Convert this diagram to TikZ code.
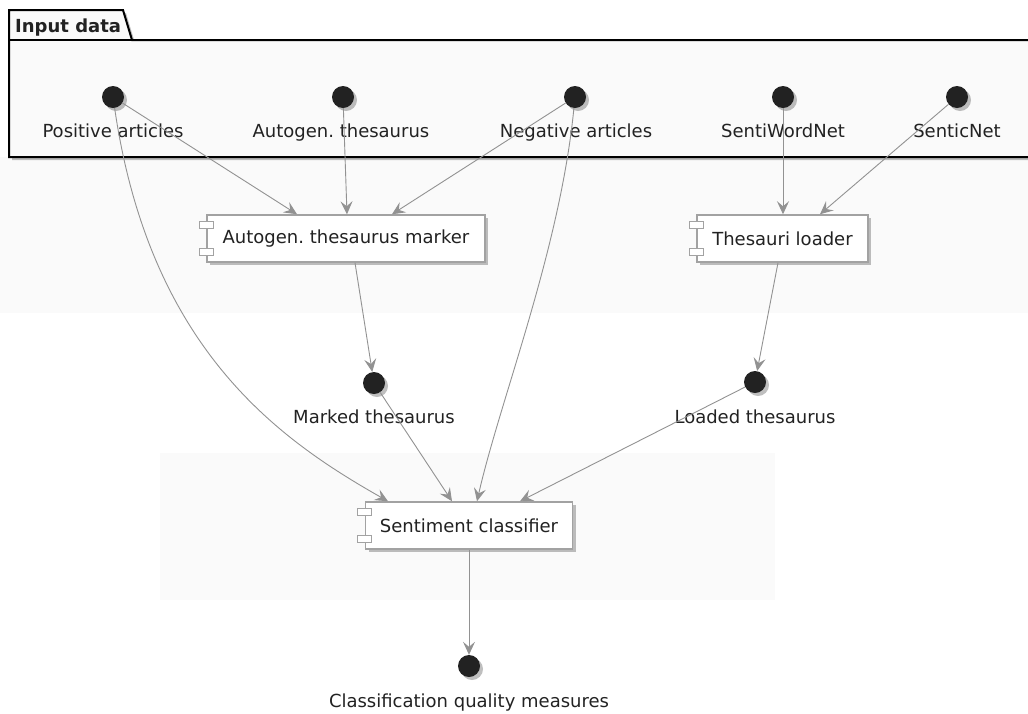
\documentclass[tikz,border=0pt]{standalone}
\usepackage{fontspec}
\setmainfont{DejaVu Sans}
\usetikzlibrary{arrows.meta}
\usetikzlibrary{shadows}
\frenchspacing
\definecolor{linegray}{HTML}{929292}
\definecolor{boxgray}{HTML}{A2A2A2}
\definecolor{dotblack}{HTML}{222222}
\definecolor{bandgray}{HTML}{FAFAFA}
\tikzstyle{shade}=[drop shadow={shadow xshift=3pt, shadow yshift=-3pt, fill=black, opacity=0.25}]
\tikzstyle{txt}=[font=\fontsize{18}{21}\selectfont, text=dotblack]
\tikzstyle{iface}=[circle, fill=dotblack, inner sep=0pt, minimum size=22pt, shade]
\tikzstyle{lbl}=[txt, anchor=base, inner sep=0pt]
\tikzstyle{comp}=[txt, draw=boxgray, line width=1.5pt, fill=white, minimum height=47pt, shade]
\tikzstyle{port}=[draw=boxgray, fill=white, line width=1.2pt]
\tikzstyle{flow}=[draw=linegray, line width=0.9pt, -{Stealth[length=13pt, width=12pt, inset=5pt]}]

\begin{document}
\begin{tikzpicture}[x=1pt, y=-1pt]
        \useasboundingbox (0,0) rectangle (1028,713);
        \fill[bandgray] (0,157) rectangle (1028,313);
        \fill[bandgray] (160,453) rectangle (775,600);
        \draw[line width=2pt, fill=white!98!black, shade] (9,10) -- (123,10) -- (132,40) -- (1034,40) -- (1034,157) -- (9,157) -- cycle;
        \draw[line width=2pt] (9,40) -- (132,40);
        \node[txt, font=\fontsize{18}{21}\selectfont\bfseries, anchor=base west, inner sep=0pt] (pkg) at (15,32) {Input data};
        \node[iface] (posart) at (113,97) {};
        \node[iface] (autogen) at (343,97) {};
        \node[iface] (negart) at (575,97) {};
        \node[iface] (swn) at (783,97) {};
        \node[iface] (snet) at (957,97) {};
        \node[lbl] (posartl) at (113,137) {Positive articles};
        \node[lbl] (autogenl) at (341,137) {Autogen. thesaurus};
        \node[lbl] (negartl) at (576,137) {Negative articles};
        \node[lbl] (swnl) at (783,137) {SentiWordNet};
        \node[lbl] (snetl) at (957,137) {SenticNet};
        \node[comp, minimum width=278pt] (marker) at (346,238.5) {Autogen. thesaurus marker};
        \node[comp, minimum width=171pt] (loader) at (782.5,238.5) {Thesauri loader};
        \node[iface] (marked) at (374,383) {};
        \node[iface] (loaded) at (755,382) {};
        \node[lbl] (markedl) at (374,423) {Marked thesaurus};
        \node[lbl] (loadedl) at (755,423) {Loaded thesaurus};
        \node[comp, minimum width=207pt] (classifier) at (469,525.5) {Sentiment classifier};
        \node[iface] (measures) at (469,666) {};
        \node[lbl] (measuresl) at (469,707) {Classification quality measures};
        \foreach \c in {marker, loader, classifier} {
            \draw[port] ([xshift=-7pt, yshift=-7pt]\c.north west) rectangle ++(14,7);
            \draw[port] ([xshift=-7pt, yshift=7pt]\c.south west) rectangle ++(14,-7);
        }
        \draw[flow] (posart) -- ([xshift=-49pt]marker.north);
        \draw[flow] (autogen) -- ([xshift=1pt]marker.north);
        \draw[flow] (negart) -- ([xshift=46pt]marker.north);
        \draw[flow] (swn) -- ([xshift=0.5pt]loader.north);
        \draw[flow] (snet) -- ([xshift=37.5pt]loader.north);
        \draw[flow] ([xshift=9pt]marker.south) -- (marked);
        \draw[flow] ([xshift=-4.5pt]loader.south) -- (loaded);
        \draw[flow] (posart) .. controls (150,350) and (280,440) .. ([xshift=-81pt]classifier.north);
        \draw[flow] (negart) .. controls (560,250) and (500,400) .. ([xshift=8pt]classifier.north);
        \draw[flow] (marked) -- ([xshift=-17pt]classifier.north);
        \draw[flow] (loaded) -- ([xshift=51pt]classifier.north);
        \draw[flow] (classifier) -- (measures);
    \end{tikzpicture}
\end{document}
